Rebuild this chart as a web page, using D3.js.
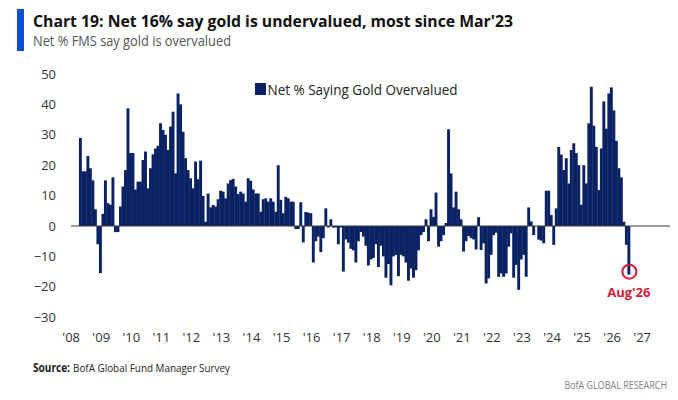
<!DOCTYPE html>
<html><head><meta charset="utf-8">
<script src="https://cdn.jsdelivr.net/npm/d3@7"></script>
<style>
body{margin:0;background:#fff}
svg{display:block}
text{font-family:"Open Sans","Noto Sans",sans-serif}
</style>
</head><body>
<svg id="chart" width="678" height="400"></svg>
<script>
// ---------------- data ----------------
const startYear = 2008, startMonth = 5;   // first bar: May 2008
const v2008 = [29, 18, 18, 23, 19, 15, 5.5, -6];
const v2009 = [-15.5, 4, 15, 7.5, 7, 16, -2, -2, 6.4, 13, 18.4, 38.7];
const v2010 = [24, 24, 12, 14.6, 14.6, 21.7, 24.5, 12.4, 19, 23.6, 25.5, 26.4];
const v2011 = [33.8, 31.6, 30, 25, 32.7, 37.6, 17.3, 43.6, 40, 31, 22.3, 18.4];
const v2012 = [15.7, 12.4, 21.2, 15.4, 21.5, 9.9, 1.4, 10.7, 6.1, 6.9, 6.4, 8.8];
const v2013 = [11.6, 11.3, 9.1, 14, 15.1, 15.5, 13, 10.5, 11.3, 10.7, 8, 15.7];
const v2014 = [14.9, 12, 10.7, 10.7, 4.7, 8.8, 9.1, 8, 9.1, 8, 4.7, 20];
const v2015 = [8.6, 4.2, 9.6, 9.1, 8, 8, -1, -1, 7.8, -5.4, 4.6, 4.4];
const v2016 = [4.2, -12, -5, -3.5, -8.6, -4, 5.8, -0.5, 2.2, -0.5, -0.5, -6];
const v2017 = [-0.5, -15, -4.4, -5.5, -7.5, -8, -12, -5, -2, -3.5, -6.5, -13];
const v2018 = [-11, -10.5, -6, -13.5, -6.5, -10, -17, -12.5, -19.5, -10, -9.5, -16.5];
const v2019 = [-9.5, -10, -12, -18, -14, -17, -14.5, -8, -3, -2, 2.2, -5];
const v2020 = [5.5, 3, 11, -6.8, -5, -3, 1, 31.8, 17.3, 6.1, 11.3, 5.5];
const v2021 = [2.2, -8.4, -5, -3.3, -4, -4.4, -7.7, 2.9, -7.9, -5.7, -18.9, -17.2];
const v2022 = [-9.5, -3, -2.2, -16.7, -15.6, -16.7, -15.6, -6.8, -2.4, -17, -12.8, -21];
const v2023 = [-11, -9.5, -16.7, 6.1, 1.5, -3, 0, -4.5, -4.8, -5.7, 11.6, 11.6];
const v2024 = [3.6, -6.2, 5.8, 26, 23.5, 18.4, 22.3, 14, 25, 27.2, 24, 20];
const v2025 = [7, 20, 14, 33.8, 45.8, 33, 26, 11.8, 25.5, 41, 32, 43.6];
const v2026 = [45.6, 38, 28, 19, 16, 1.4, -6.2, -16];

const xYears = d3.range(2008, 2028);                       // axis years
const xTickLabels = xYears.map(y => "'" + String(y).slice(2));
const yTicks = [50, 40, 30, 20, 10, 0, -10, -20, -30];
const seriesName = "Net % Saying Gold Overvalued";
const titleText = "Chart 19: Net 16% say gold is undervalued, most since Mar'23";
const subtitleText = "Net % FMS say gold is overvalued";
const highlightLabel = "Aug'26";

const values = [].concat(v2008, v2009, v2010, v2011, v2012, v2013, v2014, v2015,
  v2016, v2017, v2018, v2019, v2020, v2021, v2022, v2023, v2024, v2025, v2026);
const mkey = (y, m) => y * 12 + m;        // month key, m 0-based
const data = values.map((v, i) => ({ key: mkey(startYear, startMonth - 1 + i), value: v }));

// ---------------- chart ----------------
const svg = d3.select("#chart");
const NAVY = "#0a2263", RED = "#d7193a";

const allKeys = d3.range(mkey(2008, 0), mkey(2028, 0));
const x = d3.scaleBand().domain(allKeys).range([69.1, 670.2]).paddingInner(0).paddingOuter(0);
const y = d3.scaleLinear().domain([-30, 50]).range([317.2, 74]);

// title block
svg.append("rect").attr("x", 17).attr("y", 9).attr("width", 7).attr("height", 42).attr("fill", "#0a4fd0");
svg.append("text").attr("x", 33).attr("y", 27).attr("font-size", 15.5).attr("font-weight", 700)
  .attr("fill", "#111").attr("textLength", 480).attr("lengthAdjust", "spacingAndGlyphs").text(titleText);
svg.append("text").attr("x", 33).attr("y", 46).attr("font-size", 14).attr("fill", "#555")
  .attr("textLength", 198).attr("lengthAdjust", "spacingAndGlyphs").text(subtitleText);

// bars (slight overlap so adjacent months read as a solid mass, as in the source)
svg.append("g").selectAll("rect").data(data).join("rect")
  .attr("x", d => x(d.key) - 0.2)
  .attr("width", x.bandwidth() + 0.4)
  .attr("y", d => y(Math.max(0, d.value)))
  .attr("height", d => Math.abs(y(d.value) - y(0)))
  .attr("fill", NAVY);

// zero line
svg.append("line").attr("x1", 71).attr("x2", 670).attr("y1", y(0)).attr("y2", y(0))
  .attr("stroke", "#3a3a3a").attr("stroke-width", 1.1);

// y axis
const yAxis = svg.append("g").attr("transform", "translate(56,0)")
  .call(d3.axisLeft(y).tickValues(yTicks).tickSize(0).tickPadding(0).tickFormat(d3.format("d")));
yAxis.select(".domain").remove();
yAxis.selectAll("text").attr("font-size", 13).attr("fill", "#333").attr("font-family", '"Open Sans",sans-serif');

// x axis
const janKeys = xYears.map(yr => mkey(yr, 0));
const xAxis = svg.append("g").attr("transform", "translate(0.8,342)")
  .call(d3.axisBottom(x).tickValues(janKeys).tickSize(0).tickFormat((k, i) => xTickLabels[i]));
xAxis.select(".domain").remove();
xAxis.selectAll("text").attr("y", 0).attr("dy", null).attr("font-size", 13).attr("fill", "#333")
  .attr("font-family", '"Open Sans",sans-serif');

// legend
svg.append("rect").attr("x", 255).attr("y", 83).attr("width", 11).attr("height", 12).attr("fill", NAVY);
svg.append("text").attr("x", 267.5).attr("y", 95).attr("font-size", 14).attr("fill", "#222")
  .attr("textLength", 190).attr("lengthAdjust", "spacingAndGlyphs").text(seriesName);

// highlight last point
const last = data[data.length - 1];
const cx = x(last.key) + x.bandwidth() / 2;
svg.append("circle").attr("cx", cx + 0.5).attr("cy", y(last.value) - 3).attr("r", 7)
  .attr("fill", "none").attr("stroke", RED).attr("stroke-width", 2);
svg.append("text").attr("x", cx).attr("y", 297).attr("text-anchor", "middle")
  .attr("font-size", 13).attr("font-weight", 700).attr("fill", RED).text(highlightLabel);

// footer
svg.append("text").attr("x", 33).attr("y", 372).attr("font-size", 11.5).attr("font-weight", 700)
  .attr("fill", "#222").attr("textLength", 37).attr("lengthAdjust", "spacingAndGlyphs").text("Source:");
svg.append("text").attr("x", 73).attr("y", 372).attr("font-size", 11.5).attr("fill", "#222")
  .attr("textLength", 157).attr("lengthAdjust", "spacingAndGlyphs").text("BofA Global Fund Manager Survey");
svg.append("text").attr("transform", "translate(667,389) scale(0.78,1)").attr("text-anchor", "end")
  .attr("font-size", 11.5).attr("fill", "#808080").text("BofA GLOBAL RESEARCH");
</script>
</body></html>
